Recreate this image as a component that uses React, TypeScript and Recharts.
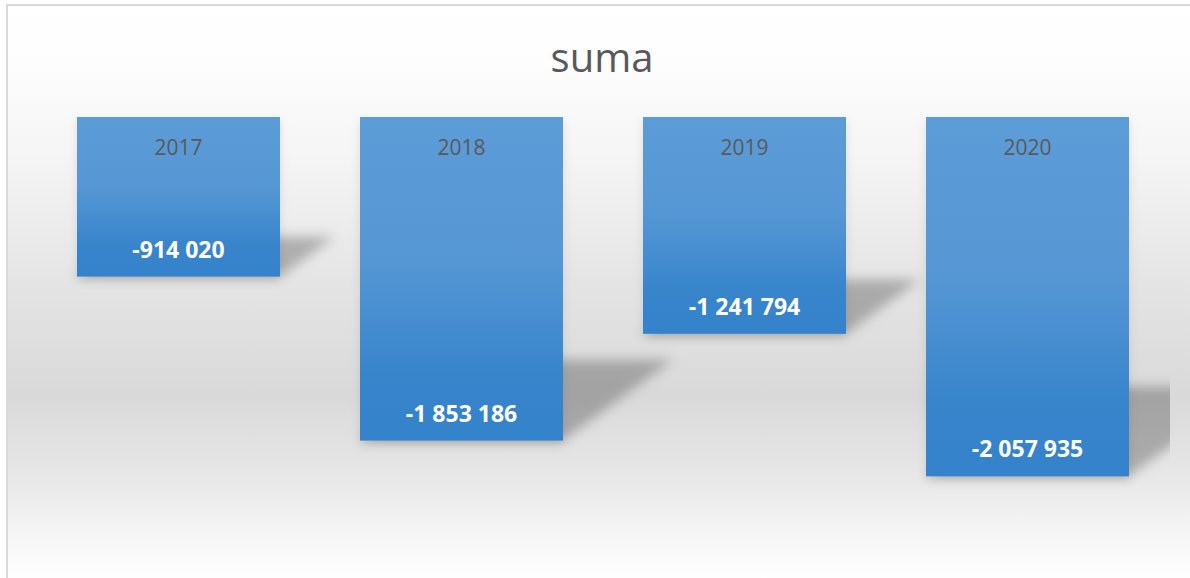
import React from 'react';
import { BarChart, Bar, XAxis, YAxis } from 'recharts';

const categories = ['2017', '2018', '2019', '2020'];
const sumaValues = [-914020, -1853186, -1241794, -2057935];
const chartTitle = 'suma';

const data = categories.map((c, i) => ({ year: c, suma: sumaValues[i] }));

const W = 1190;
const H = 578;
const PLOT_LEFT = 37;
const PLOT_RIGHT = 1169;
const PLOT_TOP = 117;
const PLOT_BOTTOM = 24.5;

const fmt = (v: number) => {
  const s = Math.abs(v).toString().replace(/\B(?=(\d{3})+(?!\d))/g, ' ');
  return (v < 0 ? '-' : '') + s;
};

const BarShape = (props: any) => {
  const { x, y, width, height, payload } = props;
  const top = Math.min(y, y + height);
  const h = Math.abs(height);
  const bottom = top + h;
  const sx = 0.34 * h;
  const sy = 0.25 * h;
  const pts = [
    [x, bottom],
    [x + width, bottom],
    [x + width + sx, bottom - sy],
    [x + sx, bottom - sy],
  ]
    .map((p) => p.join(','))
    .join(' ');
  return (
    <g>
      <g clipPath="url(#plotClip)">
        <polygon points={pts} fill="#000" fillOpacity={0.25} filter="url(#shadowBlur)" />
      </g>
      <rect x={x} y={top + 4} width={width} height={h} fill="#000" fillOpacity={0.1} filter="url(#softBlur)" />
      <rect x={x} y={top} width={width} height={h} fill="url(#barGrad)" />
      <text
        x={x + width / 2}
        y={top + 38}
        textAnchor="middle"
        fontFamily="'Open Sans', sans-serif"
        fontSize={21}
        fill="#595959"
      >
        {payload.year}
      </text>
      <text
        x={x + width / 2}
        y={bottom - 19}
        textAnchor="middle"
        fontFamily="'Open Sans', sans-serif"
        fontSize={23}
        fontWeight="bold"
        fill="#ffffff"
      >
        {fmt(payload.suma)}
      </text>
    </g>
  );
};

export default function App() {
  return (
    <div style={{ position: 'fixed', left: 0, top: 0, width: W, height: H, overflow: 'hidden', background: '#fff' }}>
      <div
        style={{
          position: 'absolute',
          left: 6,
          top: 4,
          width: 1220,
          height: 620,
          border: '2px solid #dadada',
          boxSizing: 'border-box',
          background:
            'linear-gradient(to bottom, #ffffff 0px, #fdfdfd 60px, #f5f5f5 150px, #e4e4e4 280px, #d9d9d9 390px, #e6e6e6 465px, #f2f2f2 515px, #ffffff 574px, #ffffff 620px)',
        }}
      />
      <div style={{ position: 'absolute', left: 0, top: 0 }}>
        <BarChart
          width={W}
          height={H}
          data={data}
          margin={{ top: PLOT_TOP, left: PLOT_LEFT, right: W - PLOT_RIGHT, bottom: PLOT_BOTTOM }}
        >
          <defs>
            <linearGradient id="barGrad" x1="0" y1="0" x2="0" y2="1">
              <stop offset="0" stopColor="#5c9cd7" />
              <stop offset="0.45" stopColor="#5596d4" />
              <stop offset="0.8" stopColor="#3885cc" />
              <stop offset="1" stopColor="#3482cb" />
            </linearGradient>
            <filter id="shadowBlur" x="-50%" y="-50%" width="200%" height="200%">
              <feGaussianBlur stdDeviation="6" />
            </filter>
            <filter id="softBlur" x="-20%" y="-20%" width="140%" height="140%">
              <feGaussianBlur stdDeviation="5" />
            </filter>
            <clipPath id="plotClip">
              <rect x={0} y={0} width={PLOT_RIGHT + 1} height={H} />
            </clipPath>
          </defs>
          <text
            x={602}
            y={72}
            textAnchor="middle"
            fontFamily="'Open Sans', sans-serif"
            fontSize={40}
            fill="#595959"
          >
            {chartTitle}
          </text>
          <XAxis dataKey="year" hide />
          <YAxis hide domain={[-2500000, 0]} />
          <Bar dataKey="suma" barSize={203} shape={BarShape} isAnimationActive={false} />
        </BarChart>
      </div>
    </div>
  );
}
